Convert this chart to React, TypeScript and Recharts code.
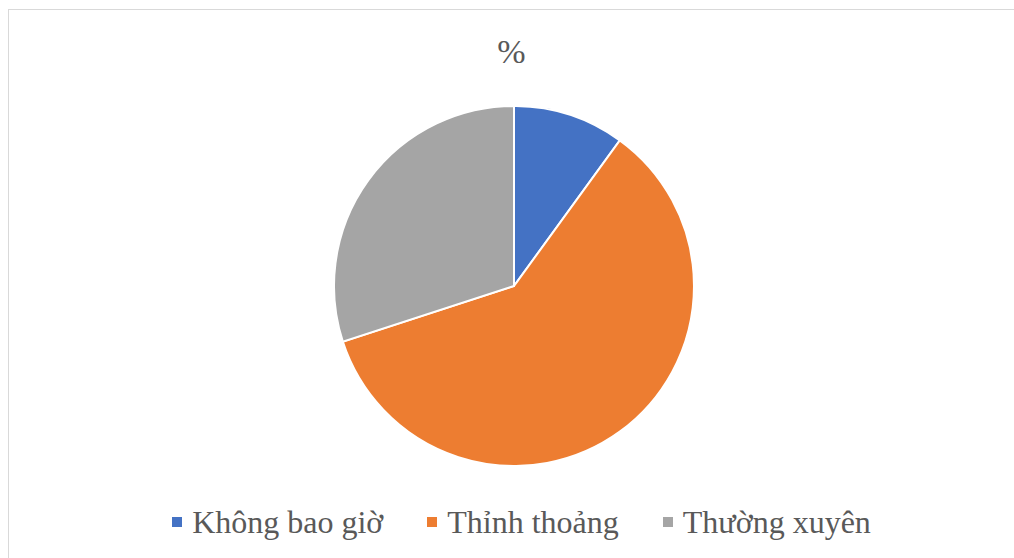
import { PieChart, Pie, Cell, Legend } from 'recharts';

const categories = ['Không bao giờ', 'Thỉnh thoảng', 'Thường xuyên'];
const percents = [10, 60, 30];
const colors = ['#4472C4', '#ED7D31', '#A5A5A5'];

const data = categories.map((name, i) => ({ name, value: percents[i] }));

const FONT = '"Liberation Serif", "Times New Roman", serif';

// legend drawn in the series' own order (recharts sorts the payload by default)
function renderLegend() {
  return (
    <div style={{ display: 'flex', justifyContent: 'center', gap: 44, paddingLeft: 20, fontFamily: FONT }}>
      {categories.map((name, i) => (
        <div key={name} style={{ display: 'flex', alignItems: 'center' }}>
          <span style={{ width: 10, height: 10, background: colors[i], display: 'inline-block', marginRight: 10 }} />
          <span style={{ fontSize: 32, color: '#595959', lineHeight: '36px' }}>{name}</span>
        </div>
      ))}
    </div>
  );
}

export default function App() {
  return (
    <div
      style={{
        position: 'fixed', left: 8, top: 9, width: 1006, height: 549, overflow: 'hidden',
        borderTop: '1px solid #d9d9d9', borderLeft: '1px solid #d9d9d9', background: '#fff',
        boxSizing: 'border-box',
      }}
    >
      <div
        style={{
          position: 'absolute', left: 0, right: 0, top: 23, textAlign: 'center',
          fontFamily: FONT, fontSize: 34, color: '#595959',
        }}
      >
        %
      </div>
      <PieChart width={1005} height={548}>
        <Pie
          data={data}
          dataKey="value"
          nameKey="name"
          cx={500}
          cy={271}
          outerRadius={180}
          startAngle={90}
          endAngle={-270}
          stroke="#ffffff"
          strokeWidth={2}
          isAnimationActive={false}
        >
          {data.map((d, i) => (
            <Cell key={d.name} fill={colors[i]} />
          ))}
        </Pie>
        <Legend verticalAlign="bottom" content={renderLegend} wrapperStyle={{ bottom: 18 }} />
      </PieChart>
    </div>
  );
}
